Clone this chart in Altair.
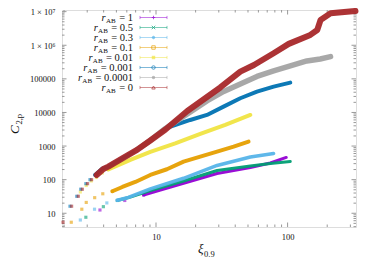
import altair as alt
import pandas as pd

# ---------------- data ----------------
r_values = ["1", "0.5", "0.3", "0.1", "0.01", "0.001", "0.0001", "0"]

# r_AB = 1 (purple)
r1_pts_xi = [3.75, 5.79, 8.05]
r1_pts_c = [12.5, 24.0, 35.0]
r1_line_xi = [8.05, 10.8, 16.2, 29.1, 52.1, 73.9, 97.7]
r1_line_c = [35.0, 49.4, 78.1, 153, 231, 314, 458]

# r_AB = 0.5 (green)
r05_pts_xi = [2.93, 3.98, 5.08]
r05_pts_c = [7.6, 15.7, 24.0]
r05_line_xi = [5.08, 6.38, 9.05, 16.2, 29.1, 52.1, 73.9, 104.8]
r05_line_c = [24.0, 30.5, 47.7, 91.5, 188, 256, 303, 348]

# r_AB = 0.3 (sky blue)
r03_pts_xi = [2.66, 3.41, 4.23, 5.08]
r03_pts_c = [6.3, 13.2, 20.3, 24.4]
r03_line_xi = [5.08, 6.16, 9.05, 16.2, 29.1, 52.1, 78.3]
r03_line_c = [24.4, 29.5, 52.9, 110, 265, 474, 602]

# r_AB = 0.1 (orange)
r01_pts_xi = [2.27, 2.73, 2.95, 3.42, 3.94, 4.66]
r01_pts_c = [5.4, 13.2, 21.0, 29.1, 38.0, 45.2]
r01_line_xi = [4.66, 5.55, 6.96, 9.05, 12.1, 16.2, 21.7, 29.1, 38.9, 50.5]
r01_line_c = [45.2, 60.6, 85.4, 138, 204, 343, 484, 681, 960, 1352]

# r_AB = 0.01 (yellow)
r001_pts_xi = [2.66, 2.95, 3.22, 3.52, 3.91, 4.34]
r001_pts_c = [43.0, 67.2, 91.5, 116, 158, 201]
r001_line_xi = [4.34, 4.91, 6.38, 9.05, 14.0, 21.7, 33.6, 52.1]
r001_line_c = [201, 247, 386, 667, 1195, 2290, 4250, 8430]

# r_AB = 0.001 (blue)
r0001_pts_xi = [2.22, 2.50, 2.68, 2.93, 3.15, 3.45]
r0001_pts_c = [16.2, 32.0, 52.0, 76.0, 100, 138]
r0001_line_xi = [3.45, 3.88, 4.34, 5.55, 7.17, 9.05, 11.8, 18.2, 24.4, 32.6, 43.7, 58.5, 78.3, 104.8]
r0001_line_c = [138, 208, 244, 428, 771, 1470, 3390, 5980, 8430, 14880, 26480, 41600, 58600, 77100]

# r_AB = 0.0001 (grey)
r00001_pts_xi = []
r00001_pts_c = []
r00001_line_xi = [7.17, 9.05, 11.8, 17.3, 24.4, 32.7, 43.7, 58.5, 78.3, 104.8, 140, 177, 212]
r00001_line_c = [771, 1470, 3340, 9020, 22000, 42200, 70500, 118000, 172000, 242000, 341000, 391000, 458000]

# r_AB = 0 (red)
r0_pts_xi = [1.965, 2.284, 2.568, 2.754, 3.02, 3.24, 3.54]
r0_pts_c = [5.4, 16.2, 32.1, 51.8, 76, 100, 138]
r0_line_xi = [3.54, 3.98, 4.34, 5.55, 7.17, 9.05, 11.8, 17.3, 30.8, 43.7, 55.5, 78.3, 102, 148.8, 168, 178, 212, 328]
r0_line_c = [138, 208, 244, 428, 771, 1470, 3120, 11090, 55500, 163700, 259000, 578000, 1100000,
             2030000, 2850000, 5660000, 8900000, 10500000]

x_major = [10, 100]
x_minor = [2, 3, 4, 5, 6, 7, 8, 9, 20, 30, 40, 50, 60, 70, 80, 90, 200, 300]
y_major = [10, 100, 1000, 10000, 100000, 1000000, 10000000]
y_minor = [m * 10 ** k for k in range(0, 7) for m in range(2, 10) if 3.9 <= m * 10 ** k <= 1.12e7]

# ---------------- styles ----------------
colors = ["#9400d3", "#009e73", "#56b4e9", "#e69f00", "#f0e442", "#0072b2", "#a3a3a3", "#a8282a"]
line_widths = [3, 3, 3.5, 4, 4, 4, 5.5, 6]
FONT = "Liberation Serif"
W, H = 294, 217
BORDER = "#999999"

xscale = alt.Scale(type="log", domain=[1.93, 331], nice=False)
yscale = alt.Scale(type="log", domain=[3.9, 1.12e7], nice=False)
xaxis = alt.Axis(values=x_major, title=None, ticks=False, tickSize=0, domain=False, grid=False,
                 labelFont=FONT, labelFontSize=8.5, labelPadding=5, labelColor="#111", format="d")
yaxis = alt.Axis(values=y_major, title=None, ticks=False, tickSize=0, domain=False, grid=False,
                 labelFont=FONT, labelFontSize=8.5, labelPadding=7, labelColor="#111",
                 labelExpr="datum.value >= 1000000 ? (datum.value >= 10000000 ? '1 × 10⁷' : '1 × 10⁶') : format(datum.value, 'd')")

X = alt.X("xi:Q", scale=xscale, axis=xaxis)
Y = alt.Y("C:Q", scale=yscale, axis=yaxis)

series = [
    (r1_pts_xi, r1_pts_c, r1_line_xi, r1_line_c),
    (r05_pts_xi, r05_pts_c, r05_line_xi, r05_line_c),
    (r03_pts_xi, r03_pts_c, r03_line_xi, r03_line_c),
    (r01_pts_xi, r01_pts_c, r01_line_xi, r01_line_c),
    (r001_pts_xi, r001_pts_c, r001_line_xi, r001_line_c),
    (r0001_pts_xi, r0001_pts_c, r0001_line_xi, r0001_line_c),
    (r00001_pts_xi, r00001_pts_c, r00001_line_xi, r00001_line_c),
    (r0_pts_xi, r0_pts_c, r0_line_xi, r0_line_c),
]

layers = []

# ticks (inside, on all four sides)
xt_major = pd.DataFrame({"xi": x_major})
xt_minor = pd.DataFrame({"xi": x_minor})
yt_major = pd.DataFrame({"C": y_major})
yt_minor = pd.DataFrame({"C": y_minor})
for df, ln in [(xt_major, 4.5), (xt_minor, 2.5)]:
    layers.append(alt.Chart(df).mark_rule(color=BORDER, strokeWidth=1).encode(
        x=X, y=alt.value(H), y2=alt.value(H - ln)))
    layers.append(alt.Chart(df).mark_rule(color=BORDER, strokeWidth=1).encode(
        x=X, y=alt.value(0), y2=alt.value(ln)))
for df, ln in [(yt_major, 4.5), (yt_minor, 2.5)]:
    layers.append(alt.Chart(df).mark_rule(color=BORDER, strokeWidth=1).encode(
        y=Y, x=alt.value(0), x2=alt.value(ln)))
    layers.append(alt.Chart(df).mark_rule(color=BORDER, strokeWidth=1).encode(
        y=Y, x=alt.value(W), x2=alt.value(W - ln)))

# data series, drawn in legend order (r=0 on top)
for (pxi, pc, lxi, lc), col, lw in zip(series, colors, line_widths):
    ldf = pd.DataFrame({"xi": lxi, "C": lc, "i": list(range(len(lxi)))})
    layers.append(alt.Chart(ldf).mark_line(color=col, strokeWidth=lw, strokeCap="round",
                                           strokeJoin="round", opacity=0.95).encode(x=X, y=Y, order="i:Q"))
    if pxi:
        pdf = pd.DataFrame({"xi": pxi, "C": pc})
        layers.append(alt.Chart(pdf).mark_square(color=col, size=10, opacity=0.6).encode(x=X, y=Y))

# ---------------- legend (inside, top-left) ----------------
char_w = {".": 0.25, "=": 0.564, " ": 0.25}
def text_w(s, fs):
    return sum(char_w.get(ch, 0.5) for ch in s) * fs

FS = 10.5
SUB = 7
eq_right = 71
rows = []
for i, v in enumerate(r_values):
    eq = "= " + v
    ab_x = eq_right - text_w(eq, FS) - 3.5
    r_x = ab_x - 1.389 * SUB - 0.3
    ly = 7.5 + 10 * i
    rows.append({"name": v, "eq": eq, "abx": ab_x, "rx": r_x, "ly": ly,
                 "lyb": ly + 3.6, "lys": ly + 5.6, "lyt": ly - 1.6, "lyd": ly + 1.6})
leg = pd.DataFrame(rows)
cscale = alt.Scale(domain=r_values, range=colors)
shape_paths = ["M-1,0L1,0M0,-1L0,1", "M-1,-1L1,1M-1,1L1,-1", "M-1,0L1,0M0,-1L0,1M-0.7,-0.7L0.7,0.7M-0.7,0.7L0.7,-0.7",
               "square", "square", "circle", "circle", "triangle-up"]
filled = [False, False, False, False, True, False, True, False]

layers.append(alt.Chart(leg).mark_text(align="right", baseline="alphabetic", font=FONT, fontSize=FS, color="#111").encode(
    x=alt.value(eq_right), y=alt.Y("lyb:Q", scale=None), text="eq:N"))
layers.append(alt.Chart(leg).mark_text(align="right", baseline="alphabetic", font=FONT, fontSize=SUB, color="#111").encode(
    x=alt.X("abx:Q", scale=None), y=alt.Y("lys:Q", scale=None), text=alt.value("AB")))
layers.append(alt.Chart(leg).mark_text(align="right", baseline="alphabetic", font=FONT, fontSize=FS, fontStyle="italic", color="#111").encode(
    x=alt.X("rx:Q", scale=None), y=alt.Y("lyb:Q", scale=None), text=alt.value("r")))
layers.append(alt.Chart(leg).mark_rule(strokeWidth=1, opacity=0.5).encode(
    x=alt.value(78), x2=alt.value(105), y=alt.Y("ly:Q", scale=None),
    color=alt.Color("name:N", scale=cscale, legend=None)))
for cx in (78, 105):
    layers.append(alt.Chart(leg).mark_rule(strokeWidth=1, opacity=0.5).encode(
        x=alt.value(cx), y=alt.Y("lyt:Q", scale=None), y2="lyd:Q",
        color=alt.Color("name:N", scale=cscale, legend=None)))
for i, v in enumerate(r_values):
    layers.append(alt.Chart(leg[leg["name"] == v]).mark_point(
        shape=shape_paths[i], filled=filled[i], size=12, strokeWidth=1, color=colors[i], opacity=0.7).encode(
        x=alt.value(91.5), y=alt.Y("ly:Q", scale=None)))

# ---------------- axis titles ----------------
layers.append(alt.Chart(pd.DataFrame({"t": ["C"]})).mark_text(
    align="left", baseline="middle", angle=270, font=FONT, fontSize=13, fontStyle="italic", color="#111").encode(
    x=alt.value(-47), y=alt.value(124), text="t:N"))
layers.append(alt.Chart(pd.DataFrame({"t": ["2,p"]})).mark_text(
    align="left", baseline="middle", angle=270, font=FONT, fontSize=8.5, color="#111").encode(
    x=alt.value(-43.5), y=alt.value(114.5), text="t:N"))
layers.append(alt.Chart(pd.DataFrame({"t": ["ξ"]})).mark_text(
    align="right", baseline="alphabetic", font=FONT, fontSize=13, fontStyle="italic", color="#111").encode(
    x=alt.value(141.5), y=alt.value(243), text="t:N"))
layers.append(alt.Chart(pd.DataFrame({"t": ["0.9"]})).mark_text(
    align="left", baseline="alphabetic", font=FONT, fontSize=8.5, color="#111").encode(
    x=alt.value(142), y=alt.value(246.5), text="t:N"))

chart = alt.layer(*layers).properties(
    width=W, height=H,
    padding={"left": 54, "top": 2, "right": 10, "bottom": 32},
    autosize=alt.AutoSizeParams(type="none"),
).configure_view(stroke=BORDER, strokeWidth=1.2).configure(background="white")

chart.save("out.html", embed_options={"renderer": "svg", "actions": False})
